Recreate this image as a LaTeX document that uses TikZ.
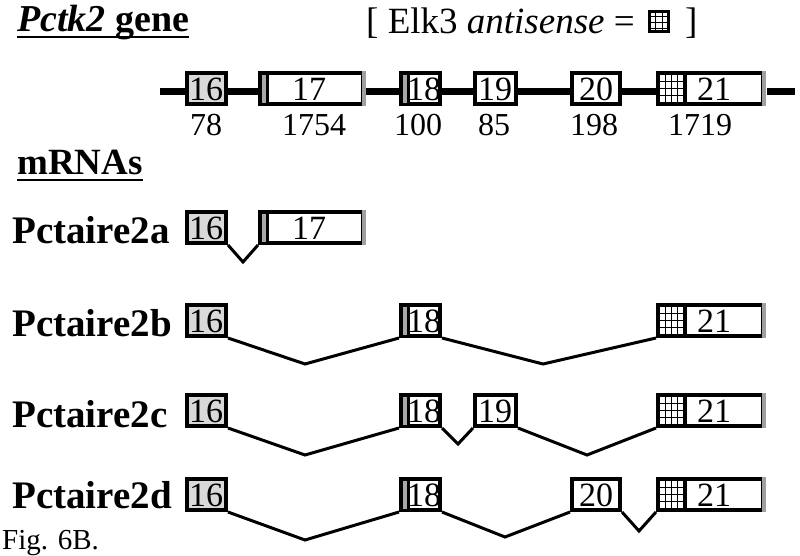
\documentclass[tikz,border=0pt]{standalone}
\usepackage{fontspec}
\setmainfont{Liberation Serif}
\definecolor{exgray}{HTML}{D9D9D9}
\definecolor{stripegray}{HTML}{A8A8A8}
\definecolor{edgegray}{HTML}{A0A0A0}
\newcommand\mkexon[6]{% name, x1, x2, ytop, ybot, fill
  \node[exonbox, fill=#6, minimum width={(#3-#2-4)*1pt}, minimum height={(#5-#4-4)*1pt}] (#1) at ({(#2+#3)/2},{(#4+#5)/2}) {};}
\newcommand\leftstripe[3]{% x1, ytop, ybot
  \fill[stripegray] ({#1+4},{#2+3.5}) rectangle ({#1+8},{#3-3.5});
  \fill[black] ({#1+8},#2) rectangle ({#1+11},#3);}
\newcommand\rightgray[3]{% x2, ytop, ybot
  \fill[edgegray] ({#1-3},#2) rectangle ({#1+0.5},#3);}
\newcommand\hatchbox[4]{% x1, xsep, ytop, ybot
  \foreach \k in {1,2,3}{
    \draw[line width=1pt] ({#1+4+\k*(#2-#1-4)/4},{#3+3}) -- ({#1+4+\k*(#2-#1-4)/4},{#4-3});
    \draw[line width=1pt] ({#1+3},{#3+4+\k*(#4-#3-8)/4}) -- ({#2},{#3+4+\k*(#4-#3-8)/4});
  }
  \fill[black] (#2,#3) rectangle ({#2+3.5},#4);}
\begin{document}
\begin{tikzpicture}[x=1pt,y=-1pt,
  exonbox/.style={draw=black, line width=4pt, inner sep=0pt, rectangle},
  numtxt/.style={inner sep=0pt, font=\fontsize{34}{34}\selectfont},
  lentxt/.style={inner sep=0pt, anchor=base, font=\fontsize{32}{32}\selectfont},
  rowlabel/.style={inner sep=0pt, anchor=base west, font=\fontsize{39}{39}\selectfont\bfseries},
  titletxt/.style={inner sep=0pt, anchor=base west, font=\fontsize{38}{38}\selectfont\bfseries},
  legtxt/.style={inner sep=0pt, anchor=base west, font=\fontsize{37}{37}\selectfont},
  geneline/.style={line width=7pt},
  intron/.style={line width=3pt, line join=miter},
  uline/.style={line width=2.5pt}]
\useasboundingbox (0,0) rectangle (800,555);

% ---------- titles ----------
\node[titletxt] (ttl) at (17,31) {\textit{Pctk2} gene};
\draw[uline] ([yshift=-6pt]ttl.base west) -- ([yshift=-6pt]ttl.base east);
\node[titletxt, font=\fontsize{37}{37}\selectfont\bfseries] (mr) at (17,174) {mRNAs};
\draw[uline] ([yshift=-6pt]mr.base west) -- ([yshift=-6pt]mr.base east);

% ---------- legend ----------
\node[legtxt] (leg) at (366,33) {[ Elk3 \textit{antisense} =};
\node[draw=black, line width=3.5pt, inner sep=0pt, minimum width=19pt, minimum height=20pt] (lgbox) at (659,21.5) {};
\foreach \xx in {655.5,662.5} \draw[line width=1pt] (\xx,13) -- (\xx,30);
\foreach \yy in {16.5,22.5,28} \draw[line width=1pt] (651,\yy) -- (667,\yy);
\node[legtxt] (legr) at (685,33) {]};

% ---------- gene row ----------
\coordinate (gs) at (160,91);
\coordinate (ge) at (795,91);
\mkexon{g16}{185}{228}{71}{106}{exgray}
\mkexon{g17}{258}{365}{71}{106}{white}
\mkexon{g18}{399}{442}{71}{106}{white}
\mkexon{g19}{473}{518}{71}{106}{white}
\mkexon{g20}{570}{622}{71}{106}{white}
\mkexon{g21}{656}{765}{71}{106}{white}
\leftstripe{258}{71}{106}
\rightgray{365}{71}{106}
\leftstripe{399}{71}{106}
\hatchbox{656}{683}{71}{106}
\rightgray{765}{71}{106}
\draw[geneline] (gs) -- (gs -| g16.west);
\draw[geneline] (g16.east |- gs) -- (g17.west |- gs);
\draw[geneline] ([xshift=1pt]g17.east |- gs) -- (g18.west |- gs);
\draw[geneline] (g18.east |- gs) -- (g19.west |- gs);
\draw[geneline] (g19.east |- gs) -- (g20.west |- gs);
\draw[geneline] (g20.east |- gs) -- (g21.west |- gs);
\draw[geneline] ([xshift=1.5pt]g21.east |- gs) -- (ge);
\node[numtxt] (gt16) at (206,89) {16};
\node[numtxt] (gt17) at (309,89) {17};
\node[numtxt] (gt18) at (424,89) {18};
\node[numtxt] (gt19) at (495,89) {19};
\node[numtxt] (gt20) at (596,89) {20};
\node[numtxt] (gt21) at (714,89) {21};
\node[lentxt] (n16) at (206,135) {78};
\node[lentxt] (n17) at (314,135) {1754};
\node[lentxt] (n18) at (418,135) {100};
\node[lentxt] (n19) at (494,135) {85};
\node[lentxt] (n20) at (594,135) {198};
\node[lentxt] (n21) at (700,135) {1719};

% ---------- Pctaire2a ----------
\node[rowlabel] (la) at (12,243) {Pctaire2a};
\mkexon{a16}{185}{228}{210}{245}{exgray}
\mkexon{a17}{258}{365}{210}{245}{white}
\leftstripe{258}{210}{245}
\rightgray{365}{210}{245}
\node[numtxt] (at16) at (206,228) {16};
\node[numtxt] (at17) at (309,228) {17};
\coordinate (va1) at (243,262);
\draw[intron] (a16.south east) -- (va1) -- (a17.south west);

% ---------- Pctaire2b ----------
\node[rowlabel] (lb) at (12,336) {Pctaire2b};
\mkexon{b16}{185}{228}{303}{338}{exgray}
\mkexon{b18}{399}{442}{303}{338}{white}
\mkexon{b21}{656}{765}{303}{338}{white}
\leftstripe{399}{303}{338}
\hatchbox{656}{683}{303}{338}
\rightgray{765}{303}{338}
\node[numtxt] (bt16) at (206,321) {16};
\node[numtxt] (bt18) at (424,321) {18};
\node[numtxt] (bt21) at (714,321) {21};
\coordinate (vb1) at (305,364);
\coordinate (vb2) at (543,364);
\draw[intron] (b16.south east) -- (vb1) -- (b18.south west);
\draw[intron] (b18.south east) -- (vb2) -- (b21.south west);

% ---------- Pctaire2c ----------
\node[rowlabel] (lc) at (12,427) {Pctaire2c};
\mkexon{c16}{185}{228}{393}{428}{exgray}
\mkexon{c18}{399}{442}{393}{428}{white}
\mkexon{c19}{473}{518}{393}{428}{white}
\mkexon{c21}{656}{765}{393}{428}{white}
\leftstripe{399}{393}{428}
\hatchbox{656}{683}{393}{428}
\rightgray{765}{393}{428}
\node[numtxt] (ct16) at (206,411) {16};
\node[numtxt] (ct18) at (424,411) {18};
\node[numtxt] (ct19) at (495,411) {19};
\node[numtxt] (ct21) at (714,411) {21};
\coordinate (vc1) at (305,455);
\coordinate (vc2) at (458,444);
\coordinate (vc3) at (587,455);
\draw[intron] (c16.south east) -- (vc1) -- (c18.south west);
\draw[intron] (c18.south east) -- (vc2) -- (c19.south west);
\draw[intron] (c19.south east) -- (vc3) -- (c21.south west);

% ---------- Pctaire2d ----------
\node[rowlabel] (ld) at (12,508) {Pctaire2d};
\mkexon{d16}{185}{228}{477}{512}{exgray}
\mkexon{d18}{399}{442}{477}{512}{white}
\mkexon{d20}{570}{622}{477}{512}{white}
\mkexon{d21}{656}{765}{477}{512}{white}
\leftstripe{399}{477}{512}
\hatchbox{656}{683}{477}{512}
\rightgray{765}{477}{512}
\node[numtxt] (dt16) at (206,495) {16};
\node[numtxt] (dt18) at (424,495) {18};
\node[numtxt] (dt20) at (596,495) {20};
\node[numtxt] (dt21) at (714,495) {21};
\coordinate (vd1) at (305,540);
\coordinate (vd2) at (505,537);
\coordinate (vd3) at (639,531);
\draw[intron] (d16.south east) -- (vd1) -- (d18.south west);
\draw[intron] (d18.south east) -- (vd2) -- (d20.south west);
\draw[intron] (d20.south east) -- (vd3) -- (d21.south west);

% ---------- caption ----------
\node[inner sep=0pt, anchor=base west, font=\fontsize{29}{29}\selectfont] (fig) at (2,549) {Fig. 6B.};
\end{tikzpicture}
\end{document}
